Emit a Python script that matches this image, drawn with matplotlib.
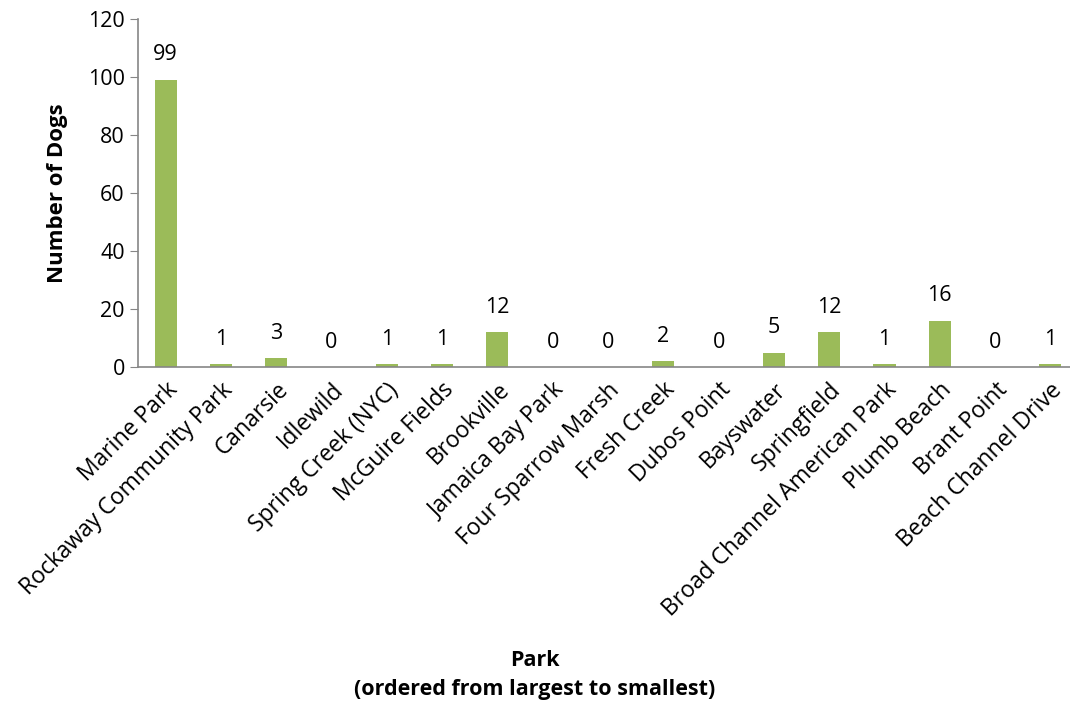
from matplotlib import pyplot as plt

parks = ["Marine Park", "Rockaway Community Park", "Canarsie", "Idlewild",
         "Spring Creek (NYC)", "McGuire Fields", "Brookville", "Jamaica Bay Park",
         "Four Sparrow Marsh", "Fresh Creek", "Dubos Point", "Bayswater",
         "Springfield", "Broad Channel American Park", "Plumb Beach",
         "Brant Point", "Beach Channel Drive"]
dogs = [99, 1, 3, 0, 1, 1, 12, 0, 0, 2, 0, 5, 12, 1, 16, 0, 1]

plt.rcParams['font.family'] = ['Open Sans', 'DejaVu Sans']

fig = plt.figure(figsize=(10.7, 7.08), dpi=100)
ax = fig.add_axes([0.129, 0.4816, 0.8785, 0.4916])

x = range(len(parks))
bars = ax.bar(x, dogs, width=0.4, color='#9BBB59')
for b, v in zip(bars, dogs):
    ax.text(b.get_x() + b.get_width() / 2, v + 5, str(v),
            ha='center', va='bottom', fontsize=15.5)

ax.set_xlim(-0.5, len(parks) - 0.5)
ax.set_ylim(0, 120)
ax.set_yticks(range(0, 121, 20))
ax.set_xticks(list(x))
ax.set_xticklabels(parks, rotation=45, ha='right', rotation_mode='anchor',
                   fontsize=16.5)
ax.tick_params(axis='x', length=0, pad=8)
ax.tick_params(axis='y', labelsize=15.5, length=6, color='#868686', direction='out')

for s in ['top', 'right']:
    ax.spines[s].set_visible(False)
for s in ['left', 'bottom']:
    ax.spines[s].set_color('#868686')
    ax.spines[s].set_linewidth(1.2)

ax.set_ylabel('Number of Dogs', fontsize=16, fontweight='bold', labelpad=14)
fig.text(0.5, 0.012, 'Park\n(ordered from largest to smallest)', ha='center',
         va='bottom', fontsize=15.5, fontweight='bold', linespacing=1.45)

fig.savefig('out.png', dpi=100)
